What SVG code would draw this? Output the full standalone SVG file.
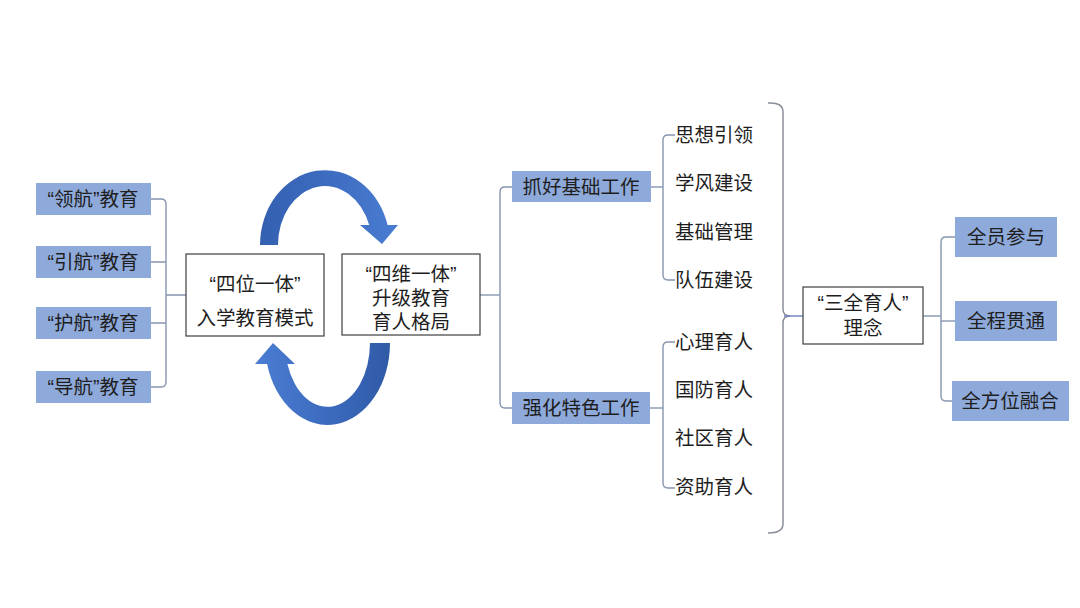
<svg xmlns="http://www.w3.org/2000/svg" width="1080" height="608" viewBox="0 0 1080 608">
<defs>
<style>
text{font-family:"Liberation Sans","Noto Sans CJK SC",sans-serif;font-size:19.5px;fill:#1e1e1e;text-anchor:middle;dominant-baseline:central}
.lt{text-anchor:start}
.blue{fill:#8eaadb}
.box{fill:#ffffff;stroke:#3f3f3f;stroke-width:1.2}
.con{fill:none;stroke:#8795b0;stroke-width:1.4}
.brace{fill:none;stroke:#8a8f99;stroke-width:1.5}
</style>
<linearGradient id="gUp" x1="0" y1="0" x2="1" y2="0">
<stop offset="0" stop-color="#3460b0"/>
<stop offset="0.5" stop-color="#3d6cc0"/>
<stop offset="1" stop-color="#4a7dd2"/>
</linearGradient>
<linearGradient id="gDn" x1="0" y1="0" x2="1" y2="0">
<stop offset="0" stop-color="#4a7dd2"/>
<stop offset="0.5" stop-color="#3d6cc0"/>
<stop offset="1" stop-color="#2f5aa6"/>
</linearGradient>
</defs>
<rect width="1080" height="608" fill="#ffffff"/>

<g id="connectors">
<path class="con" d="M151,199 H161 Q166,199 166,204 V382 Q166,387 161,387 H151"/>
<path class="con" d="M151,262 H166 M151,323 H166 M166,295 H186"/>
<path class="con" d="M480,295 H500"/>
<path class="con" d="M512,187 H505 Q500,187 500,192 V403 Q500,408 505,408 H512"/>
<path class="con" d="M651,187 H663"/>
<path class="con" d="M675,135 H668 Q663,135 663,140 V275 Q663,280 668,280 H675"/>
<path class="con" d="M650,408 H663"/>
<path class="con" d="M675,342 H668 Q663,342 663,347 V483 Q663,488 668,488 H675"/>
<path class="brace" d="M768,103 Q783,102 783,112 V309 Q783,316 790,316 M783,323 Q783,316 790,316 M783,323 V524 Q783,533 768,533"/>
<path d="M784,316 L803,316" fill="none" stroke="#6f7fc0" stroke-width="1.4"/>
<path class="con" d="M923,316 H941"/>
<path class="con" d="M955,237 H946 Q941,237 941,242 V396 Q941,401 946,401 H952"/>
<path class="con" d="M941,321 H955"/>
</g>

<g id="arrow-top">
<path d="M260,245 A65,75 0 0 1 387.6,225 L398,225 L382,244 L360,225 L369.2,225 A47,59 0 0 0 278,245 Z" fill="url(#gUp)"/>
</g>
<g id="arrow-bottom">
<path d="M390,343 A62.5,82 0 0 1 267.1,364 L255,364 L273,343 L295,364 L287.4,364 A42.5,64 0 0 0 370,343 Z" fill="url(#gDn)"/>
</g>

<g id="lead"><rect class="blue" x="36" y="183" width="115" height="32"/><text x="93" y="199">“领航”教育</text></g>
<g id="guide"><rect class="blue" x="36" y="246" width="115" height="32"/><text x="93" y="262">“引航”教育</text></g>
<g id="protect"><rect class="blue" x="36" y="307" width="115" height="32"/><text x="93" y="323">“护航”教育</text></g>
<g id="navigate"><rect class="blue" x="36" y="371" width="115" height="32"/><text x="93" y="387">“导航”教育</text></g>

<g id="four-in-one"><rect class="box" x="186" y="254" width="138" height="82"/>
<text x="255" y="284">“四位一体”</text><text x="255" y="318">入学教育模式</text></g>

<g id="four-dim"><rect class="box" x="342" y="254" width="138" height="81"/>
<text x="411" y="274">“四维一体”</text><text x="411" y="298">升级教育</text><text x="411" y="322">育人格局</text></g>

<g id="basic"><rect class="blue" x="512" y="171" width="139" height="31"/><text x="581" y="187">抓好基础工作</text></g>
<g id="feature"><rect class="blue" x="512" y="392" width="138" height="32"/><text x="581" y="408">强化特色工作</text></g>

<g id="basic-items">
<text class="lt" x="675" y="135">思想引领</text>
<text class="lt" x="675" y="183">学风建设</text>
<text class="lt" x="675" y="232">基础管理</text>
<text class="lt" x="675" y="280">队伍建设</text>
</g>
<g id="feature-items">
<text class="lt" x="675" y="342">心理育人</text>
<text class="lt" x="675" y="390">国防育人</text>
<text class="lt" x="675" y="438">社区育人</text>
<text class="lt" x="675" y="487">资助育人</text>
</g>

<g id="three-all"><rect class="box" x="803" y="287" width="120" height="57"/>
<text x="863" y="303">“三全育人”</text><text x="863" y="328">理念</text></g>

<g id="all-staff"><rect class="blue" x="955" y="217" width="102" height="40"/><text x="1006" y="237">全员参与</text></g>
<g id="all-process"><rect class="blue" x="955" y="301" width="102" height="40"/><text x="1006" y="321">全程贯通</text></g>
<g id="all-round"><rect class="blue" x="952" y="381" width="117" height="40"/><text x="1010" y="401">全方位融合</text></g>
</svg>
